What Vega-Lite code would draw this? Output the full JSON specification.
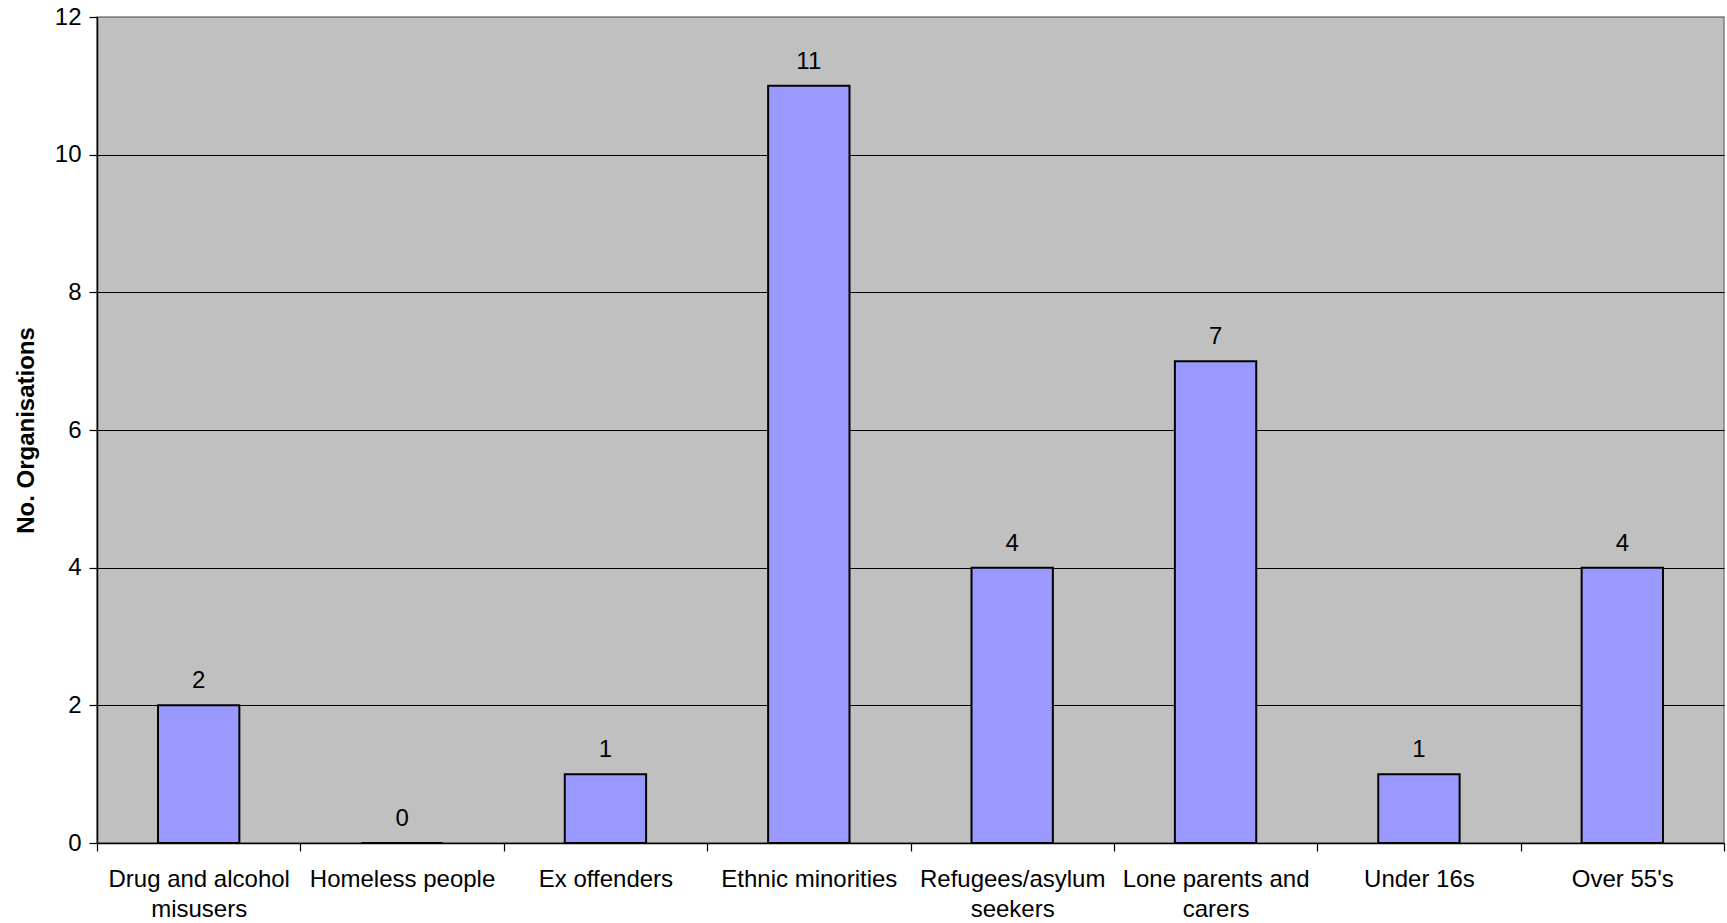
{
  "$schema": "https://vega.github.io/schema/vega-lite/v6.json",
  "width": 1627,
  "height": 826,
  "autosize": "none",
  "padding": {"left": 97, "top": 17, "right": 3, "bottom": 80},
  "background": "white",
  "config": {
    "font": "Liberation Sans",
    "view": {"fill": "#C0C0C0", "stroke": "#808080", "strokeWidth": 1.5},
    "axis": {
      "labelFont": "Liberation Sans",
      "labelFontSize": 24,
      "labelColor": "black",
      "labelLimit": 0,
      "domainColor": "black",
      "domainWidth": 1.5,
      "tickColor": "black",
      "tickWidth": 1.2,
      "tickSize": 8,
      "titleFont": "Liberation Sans",
      "titleColor": "black"
    }
  },
  "data": {
    "values": [
      {"group": "Drug and alcohol misusers", "count": 2},
      {"group": "Homeless people", "count": 0},
      {"group": "Ex offenders", "count": 1},
      {"group": "Ethnic minorities", "count": 11},
      {"group": "Refugees/asylum seekers", "count": 4},
      {"group": "Lone parents and carers", "count": 7},
      {"group": "Under 16s", "count": 1},
      {"group": "Over 55's", "count": 4}
    ]
  },
  "encoding": {
    "x": {
      "field": "group",
      "type": "nominal",
      "sort": null,
      "scale": {"paddingInner": 0, "paddingOuter": 0},
      "axis": {
        "title": null,
        "labelAngle": 0,
        "tickBand": "extent",
        "labelPadding": 16,
        "labelLineHeight": 30,
        "labelBaseline": "top",
        "labelLimit": 0,
        "labelExpr": "datum.label == 'Drug and alcohol misusers' ? ['Drug and alcohol', 'misusers'] : datum.label == 'Refugees/asylum seekers' ? ['Refugees/asylum', 'seekers'] : datum.label == 'Lone parents and carers' ? ['Lone parents and', 'carers'] : datum.label"
      }
    },
    "y": {
      "field": "count",
      "type": "quantitative",
      "scale": {"domain": [0, 12], "nice": false},
      "axis": {
        "title": "No. Organisations",
        "titleFontSize": 24,
        "titleFontWeight": "bold",
        "titlePadding": 16,
        "values": [0, 2, 4, 6, 8, 10, 12],
        "labelPadding": 8,
        "grid": true,
        "gridColor": {"condition": {"test": "datum.value == 12", "value": "#808080"}, "value": "black"},
        "gridWidth": 1
      }
    }
  },
  "layer": [
    {
      "mark": {"type": "bar", "width": {"band": 0.4}, "fill": "#9999FF", "stroke": "black", "strokeWidth": 2}
    },
    {
      "mark": {"type": "text", "fontSize": 24, "color": "black", "baseline": "alphabetic", "dy": -17},
      "encoding": {"text": {"field": "count", "type": "quantitative"}}
    }
  ]
}
